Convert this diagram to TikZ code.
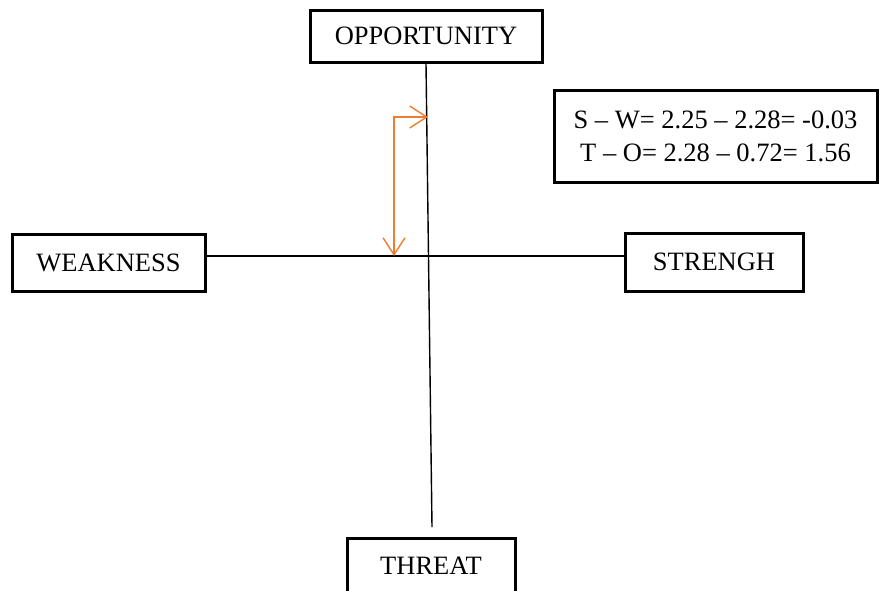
\documentclass[tikz,border=0pt]{standalone}
\usepackage{fontspec}
\setmainfont{Liberation Serif}
\usetikzlibrary{arrows.meta}
\definecolor{swotorange}{HTML}{ED7D31}
\begin{document}
\begin{tikzpicture}[x=1pt,y=-1pt,
  labelbox/.style={draw=black,line width=3pt,inner sep=0pt,
    font=\fontsize{26.5}{33}\selectfont},
  axisline/.style={draw=black,line width=1.4pt},
  orangearrow/.style={draw=swotorange,line width=1.4pt,
    {Straight Barb[length=17pt,width=22pt]}-{Straight Barb[length=17pt,width=22pt]}}]
\useasboundingbox (0,0) rectangle (880,590);
\node[labelbox,minimum width=232pt,minimum height=52pt] (opp) at (426,36) {OPPORTUNITY};
\node[labelbox,minimum width=193pt,minimum height=57pt] (weak) at (108.5,262.5) {WEAKNESS};
\node[labelbox,minimum width=178pt,minimum height=58pt] (str) at (714,262) {STRENGH};
\node[labelbox,minimum width=168pt,minimum height=56pt] (thr) at (431,566) {THREAT};
\node[labelbox,minimum width=323pt,minimum height=92pt,align=center] (eq) at (715.5,136)
  {S – W= 2.25 – 2.28= -0.03\\T – O= 2.28 – 0.72= 1.56};
\coordinate (vend) at (432,527);
\coordinate (hl) at (0,256);
\draw[axisline] (opp.south) -- (vend);
\draw[axisline] (weak.east |- hl) -- (str.west |- hl);
\coordinate (a1) at (428,117);
\coordinate (a2) at (394,256);
\draw[orangearrow] (a1) -| (a2);
\end{tikzpicture}
\end{document}
